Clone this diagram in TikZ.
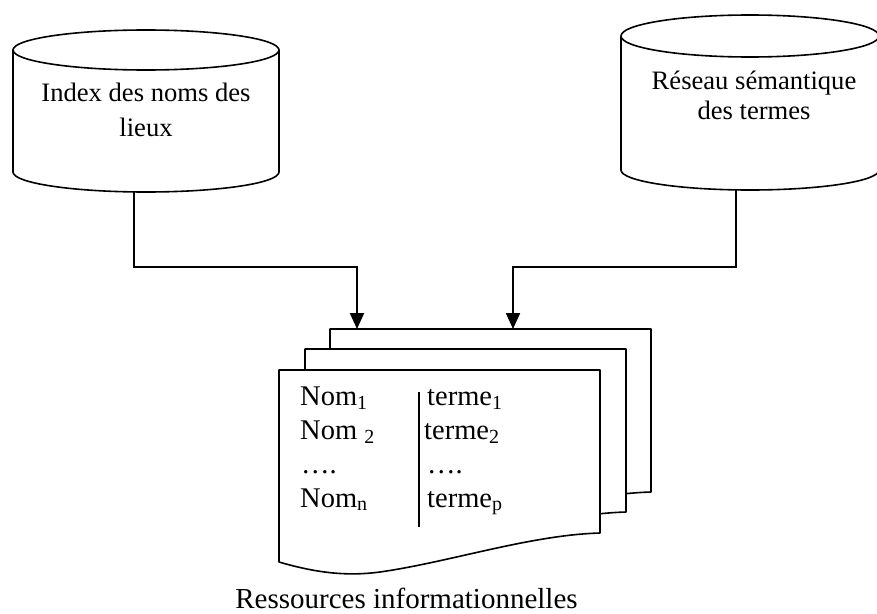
\documentclass[tikz,border=0pt]{standalone}
\usepackage{fontspec}
\setmainfont{Liberation Serif}
\usetikzlibrary{arrows.meta}
\tikzset{
  shp/.style={line width=1.6pt, fill=white, line join=round},
  conn/.style={line width=2pt, -{Triangle[length=16pt,width=14pt]}},
  cyltxt/.style={inner sep=0pt, anchor=base, font=\fontsize{26.6}{30}\selectfont},
  doctxt/.style={inner sep=0pt, anchor=base west, font=\fontsize{28.5}{34}\selectfont},
  captxt/.style={inner sep=0pt, anchor=base, font=\fontsize{29}{34}\selectfont},
  docpage/.pic={
    \draw[shp] (0,0) -- (321,0) -- (321,163)
      .. controls (251,165) and (171,192) .. (101,202)
      .. controls (71,206) and (41,204) .. (0,192) -- cycle;
  }
}
\begin{document}
\begin{tikzpicture}[x=1pt,y=-1pt]
\clip (0,0) rectangle (877,613);
\fill[white] (0,0) rectangle (877,613);
% left cylinder
\draw[shp] (13,50) -- (13,172) arc[start angle=180,end angle=0,x radius=133,y radius=20] -- (279,50);
\draw[shp] (146,50) ellipse[x radius=133,y radius=20];
\node[cyltxt] (idx1) at (146,101) {Index des noms des};
\node[cyltxt] (idx2) at (146,136) {lieux};
% right cylinder
\draw[shp] (621,36) -- (621,170) arc[start angle=180,end angle=0,x radius=129,y radius=20] -- (879,36);
\draw[shp] (750,36) ellipse[x radius=129,y radius=21];
\node[cyltxt] (res1) at (754,89) {Réseau sémantique};
\node[cyltxt] (res2) at (754,119) {des termes};
% pages
\pic (back) at (330,329) {docpage};
\pic (mid) at (305,349) {docpage};
\pic (front) at (279,370) {docpage};
% table inside
\node[doctxt] (n1) at (300,405) {Nom\textsubscript{1}};
\node[doctxt] (n2) at (300,439) {Nom \textsubscript{2}};
\node[doctxt] (n3) at (301,473) {….};
\node[doctxt] (n4) at (300,507) {Nom\textsubscript{n}};
\node[doctxt] (t1) at (427,405) {terme\textsubscript{1}};
\node[doctxt] (t2) at (424,439) {terme\textsubscript{2}};
\node[doctxt] (t3) at (427,473) {….};
\node[doctxt] (t4) at (427,507) {terme\textsubscript{p}};
\draw[line width=1.6pt] (419,392) -- (419,527);
% caption
\node[captxt] (cap) at (406.5,608) {Ressources informationnelles};
% connectors
\coordinate (lb) at (134,192);
\coordinate (lk) at (357,267);
\coordinate (la) at (357,329);
\coordinate (rb) at (736,190);
\coordinate (rk) at (513,267);
\coordinate (ra) at (513,329);
\draw[conn] (lb) |- (lk) -- (la);
\draw[conn] (rb) |- (rk) -- (ra);
\end{tikzpicture}
\end{document}
